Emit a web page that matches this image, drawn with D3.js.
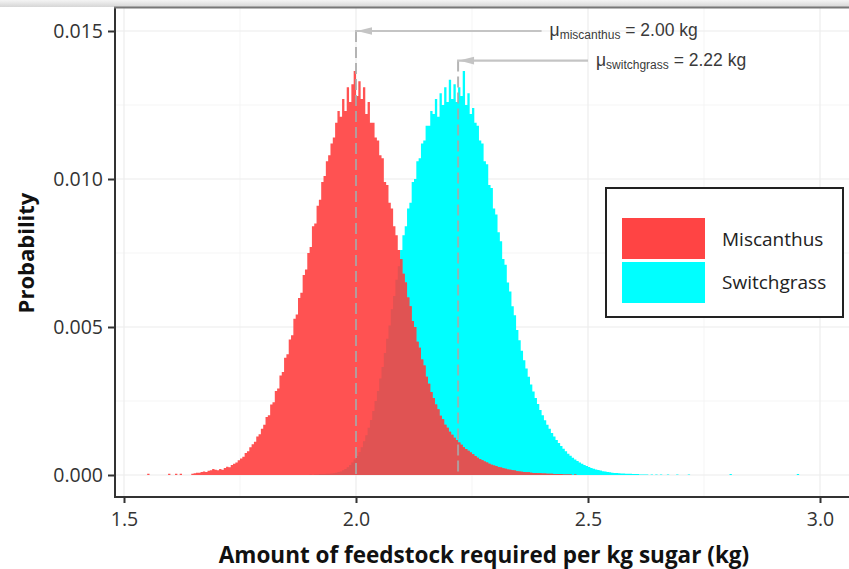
<!DOCTYPE html>
<html>
<head>
<meta charset="utf-8">
<script src="https://cdn.jsdelivr.net/npm/d3@7"></script>
<style>
  body { margin: 0; background: #fff; }
  svg { display: block; }
</style>
</head>
<body>
<svg id="chart" width="849" height="569"></svg>
<script>
// Histogram bins: each value is the probability of a bin of width binWidth
const binWidth = 0.005;

const miscanthusStart = 1.55;
const miscanthus = [
  0.00004,0,0,0,0,0,0,0,0,0.00004,
  0,0,0.00004,0,0.00004,0,0,0,0,0.00004,
  0.00006,0.00008,0.00008,0.0001,0.00012,0.0001,0.00014,0.00016,0.0002,0.00018,
  0.00016,0.0002,0.00018,0.00024,0.00028,0.00026,0.00034,0.00038,0.00042,0.0005,
  0.00056,0.00062,0.00074,0.0008,0.00094,0.00104,0.00112,0.0013,0.00138,0.00156,
  0.0017,0.00196,0.00202,0.00238,0.00246,0.00284,0.00292,0.00336,0.00348,0.00396,
  0.00408,0.00458,0.00472,0.00528,0.00542,0.00598,0.00616,0.00676,0.00694,0.0075,
  0.0077,0.0084,0.0085,0.0091,0.0093,0.0099,0.0101,0.0106,0.0108,0.0112,
  0.0114,0.0119,0.0123,0.0121,0.0127,0.0123,0.0131,0.0126,0.0132,0.01365,
  0.0128,0.0133,0.0127,0.0131,0.0122,0.0126,0.0119,0.0119,0.0114,0.0113,
  0.0108,0.0107,0.0099,0.0098,0.0092,0.009,0.0084,0.0081,0.0076,0.0073,
  0.0068,0.0065,0.006,0.0057,0.0052,0.005,0.0045,0.0043,0.0039,0.0037,
  0.00332,0.00308,0.0028,0.0026,0.00238,0.00222,0.002,0.00188,0.0017,0.0016,
  0.00146,0.00136,0.00126,0.00118,0.0011,0.00102,0.00094,0.00088,0.00082,0.00076,
  0.0007,0.00064,0.00058,0.00054,0.0005,0.00046,0.00042,0.00038,0.00035,0.00032,
  0.0003,0.00027,0.00025,0.00023,0.00021,0.00019,0.00018,0.00016,0.00015,0.00013,
  0.00012,0.00011,0.0001,0.00009,0.00009,0.00008,0.00007,0.00007,0.00006,0.00006,
  0.00005,0.00005,0.00004,0.00004,0.00004,0.00003,0.00003,0.00003,0.00003,0.00002,
  0.00002,0.00002,0.00002,0,0.00002,0,0,0,0,0
];

const switchgrassStart = 1.90;
const switchgrass = [
  0.00002,0,0.00002,0.00002,0.00003,0.00003,0.00003,0.00004,0.00004,0.00005,
  0.00006,0.00008,0.0001,0.00012,0.00016,0.0002,0.00026,0.00034,0.00042,0.00052,
  0.00064,0.00078,0.00094,0.00114,0.00134,0.0016,0.00186,0.00216,0.0025,0.00284,
  0.00326,0.00365,0.00412,0.0046,0.00505,0.0056,0.00605,0.0066,0.00705,0.0076,
  0.0081,0.0084,0.009,0.0092,0.0099,0.01,0.0106,0.0107,0.0112,0.0113,
  0.0118,0.0118,0.0123,0.0122,0.0127,0.0121,0.0129,0.0125,0.0131,0.0126,
  0.01335,0.0127,0.0132,0.0126,0.0131,0.0128,0.01365,0.0125,0.0129,0.0122,
  0.0124,0.0119,0.0118,0.0113,0.0112,0.0106,0.0105,0.0098,0.0097,0.009,
  0.0088,0.0082,0.0079,0.0073,0.0071,0.0065,0.0062,0.0057,0.0054,0.0049,
  0.00455,0.0042,0.00388,0.0036,0.00332,0.00306,0.00282,0.0026,0.0024,0.0022,
  0.00202,0.00185,0.0017,0.00156,0.00142,0.0013,0.00118,0.00108,0.00098,0.00089,
  0.0008,0.00072,0.00065,0.00058,0.00052,0.00047,0.00042,0.00038,0.00034,0.0003,
  0.00027,0.00024,0.00021,0.00019,0.00017,0.00015,0.00013,0.00012,0.0001,0.00009,
  0.00008,0.00007,0.00007,0.00006,0.00005,0.00005,0.00004,0.00004,0.00004,0.00003,
  0.00003,0.00003,0.00002,0.00002,0.00002,0.00002,0,0.00002,0,0.00002,
  0,0.00002,0,0,0.00002,0,0,0,0.00002,0,
  0,0,0,0.00002,0,0,0,0,0,0,
  0,0,0,0,0,0,0,0,0,0,
  0,0.00003,0,0,0,0,0,0,0,0,
  0,0,0,0,0,0,0,0,0,0,
  0,0,0,0,0,0,0,0,0,0,
  0.00003
];

const seriesNames = ["Miscanthus", "Switchgrass"];
const seriesColors = ["#ff4444", "#00ffff"];
const meanKeys = ["miscanthus", "switchgrass"];
const meanValues = [2.00, 2.22];

const xTicks = [1.5, 2.0, 2.5, 3.0];
const xMinor = [1.75, 2.25, 2.75];
const yTicks = [0.000, 0.005, 0.010, 0.015];
const yMinor = [0.0025, 0.0075, 0.0125];

// ---- layout ----
const W = 849, H = 569;
const panel = { left: 115, right: 849, top: 8, bottom: 497 };
const x = d3.scaleLinear().domain([1.5, 3.0]).range([124, 820]);
const y = d3.scaleLinear().domain([0, 0.015]).range([475, 31]);

const svg = d3.select("#chart");

// top edge shading
const defs = svg.append("defs");
const grad = defs.append("linearGradient").attr("id", "topShade")
  .attr("x1", 0).attr("y1", 0).attr("x2", 0).attr("y2", 1);
grad.append("stop").attr("offset", "0%").attr("stop-color", "#f4f4f4");
grad.append("stop").attr("offset", "100%").attr("stop-color", "#d6d6d6");
defs.append("clipPath").attr("id", "panelClip").append("rect")
  .attr("x", panel.left).attr("y", panel.top)
  .attr("width", panel.right - panel.left).attr("height", panel.bottom - panel.top);

svg.append("rect").attr("width", W).attr("height", H).attr("fill", "#fff");

// grid
const grid = svg.append("g");
grid.selectAll(".xm").data(xMinor).join("line")
  .attr("x1", d => x(d)).attr("x2", d => x(d))
  .attr("y1", panel.top).attr("y2", panel.bottom)
  .attr("stroke", "#f2f2f2").attr("stroke-width", 0.8);
grid.selectAll(".ym").data(yMinor).join("line")
  .attr("x1", panel.left).attr("x2", panel.right)
  .attr("y1", d => y(d)).attr("y2", d => y(d))
  .attr("stroke", "#f2f2f2").attr("stroke-width", 0.8);
grid.selectAll(".xM").data(xTicks).join("line")
  .attr("x1", d => x(d)).attr("x2", d => x(d))
  .attr("y1", panel.top).attr("y2", panel.bottom)
  .attr("stroke", "#ebebeb").attr("stroke-width", 1.1);
grid.selectAll(".yM").data(yTicks).join("line")
  .attr("x1", panel.left).attr("x2", panel.right)
  .attr("y1", d => y(d)).attr("y2", d => y(d))
  .attr("stroke", "#ebebeb").attr("stroke-width", 1.1);

// histogram bins
function toBins(start, values) {
  return values.map((v, i) => ({ x0: +(start + i * binWidth).toFixed(4), p: v }));
}
const miscBins = toBins(miscanthusStart, miscanthus);
const switchBins = toBins(switchgrassStart, switchgrass);
const switchByX = new Map(switchBins.map(b => [b.x0, b.p]));
const overlapBins = miscBins.map(b => ({ x0: b.x0, p: Math.min(b.p, switchByX.get(b.x0) || 0) }));

const area = d3.area()
  .x(d => x(d.x0))
  .y0(y(0))
  .y1(d => y(d.p))
  .curve(d3.curveStepAfter);
// close the last step at the bin's right edge
const withEnd = bins => bins.concat([{ x0: +(bins[bins.length - 1].x0 + binWidth).toFixed(4), p: bins[bins.length - 1].p }]);

const hist = svg.append("g").attr("clip-path", "url(#panelClip)");
hist.append("path").datum(withEnd(switchBins)).attr("d", area).attr("fill", "#00ffff");
hist.append("path").datum(withEnd(miscBins)).attr("d", area).attr("fill", "#ff5252");
hist.append("path").datum(withEnd(overlapBins)).attr("d", area).attr("fill", "#e05353");

// mean annotations
const annoRows = [
  { key: meanKeys[0], mean: meanValues[0], from: 2.4, level: 0.015 },
  { key: meanKeys[1], mean: meanValues[1], from: 2.5, level: 0.014 }
];
const anno = svg.append("g");
annoRows.forEach(r => {
  anno.append("line")
    .attr("x1", x(r.mean)).attr("x2", x(r.mean))
    .attr("y1", y(r.level)).attr("y2", y(0))
    .attr("stroke", "#a8a8a8").attr("stroke-opacity", 0.85)
    .attr("stroke-width", 2).attr("stroke-dasharray", "11,5");
  anno.append("line")
    .attr("x1", x(r.from)).attr("x2", x(r.mean) - 1)
    .attr("y1", y(r.level)).attr("y2", y(r.level))
    .attr("stroke", "#c4c4c4").attr("stroke-width", 2.2);
  const tx = x(r.mean) + 1, ty = y(r.level);
  anno.append("path")
    .attr("d", `M${tx},${ty} L${tx + 15},${ty - 3.8} L${tx + 15},${ty + 3.8} Z`)
    .attr("fill", "#c4c4c4");
  const t = anno.append("text")
    .attr("x", x(r.from) + 8).attr("y", y(r.level) + 5)
    .attr("font-family", "'Liberation Sans', Arial, sans-serif")
    .attr("font-size", 17.5).attr("fill", "#3a3a3a");
  t.append("tspan").text("μ");
  t.append("tspan").attr("font-size", 12).attr("dy", 3).text(r.key);
  t.append("tspan").attr("dy", -3).text(` = ${r.mean.toFixed(2)} kg`);
});

// axes
const tickFont = "'Open Sans', 'DejaVu Sans', sans-serif";
const yAxis = svg.append("g").attr("transform", `translate(${panel.left},0)`)
  .call(d3.axisLeft(y).tickValues(yTicks).tickFormat(d3.format(".3f")).tickSize(7).tickPadding(5));
const xAxis = svg.append("g").attr("transform", `translate(0,${panel.bottom})`)
  .call(d3.axisBottom(x).tickValues(xTicks).tickFormat(d3.format(".1f")).tickSize(6).tickPadding(9));
[yAxis, xAxis].forEach(a => {
  a.select(".domain").remove();
  a.selectAll(".tick line").attr("stroke", "#333").attr("stroke-width", 2);
  a.selectAll(".tick text")
    .attr("font-family", tickFont).attr("font-size", 19.5).attr("fill", "#333");
});

svg.append("line")
  .attr("x1", panel.left).attr("x2", panel.left)
  .attr("y1", panel.top).attr("y2", panel.bottom + 1)
  .attr("stroke", "#333").attr("stroke-width", 2);
svg.append("line")
  .attr("x1", panel.left - 1).attr("x2", panel.right)
  .attr("y1", panel.bottom).attr("y2", panel.bottom)
  .attr("stroke", "#333").attr("stroke-width", 2);

// top edge
svg.append("rect").attr("x", 0).attr("y", 0).attr("width", W).attr("height", 7)
  .attr("fill", "url(#topShade)");
svg.append("line").attr("x1", panel.left - 1).attr("x2", W)
  .attr("y1", 7.5).attr("y2", 7.5).attr("stroke", "#777").attr("stroke-width", 2);

// axis titles
svg.append("text")
  .attr("transform", `translate(34,253) rotate(-90)`)
  .attr("text-anchor", "middle")
  .attr("font-family", tickFont).attr("font-weight", "bold")
  .attr("font-size", 22).attr("fill", "#111")
  .text("Probability");
svg.append("text")
  .attr("x", 484).attr("y", 563)
  .attr("text-anchor", "middle")
  .attr("font-family", tickFont).attr("font-weight", "bold")
  .attr("font-size", 22.5).attr("fill", "#111")
  .text("Amount of feedstock required per kg sugar (kg)");

// legend
const lg = svg.append("g").attr("transform", "translate(606,188)");
lg.append("rect").attr("width", 237).attr("height", 129)
  .attr("fill", "#fff").attr("stroke", "#222").attr("stroke-width", 2);
seriesNames.forEach((name, i) => {
  lg.append("rect")
    .attr("x", 16).attr("y", 30 + i * 44).attr("width", 83).attr("height", 41)
    .attr("fill", seriesColors[i]);
  lg.append("text")
    .attr("x", 116).attr("y", 58 + i * 43)
    .attr("font-family", tickFont).attr("font-size", 19).attr("fill", "#222")
    .text(name);
});
</script>
</body>
</html>
